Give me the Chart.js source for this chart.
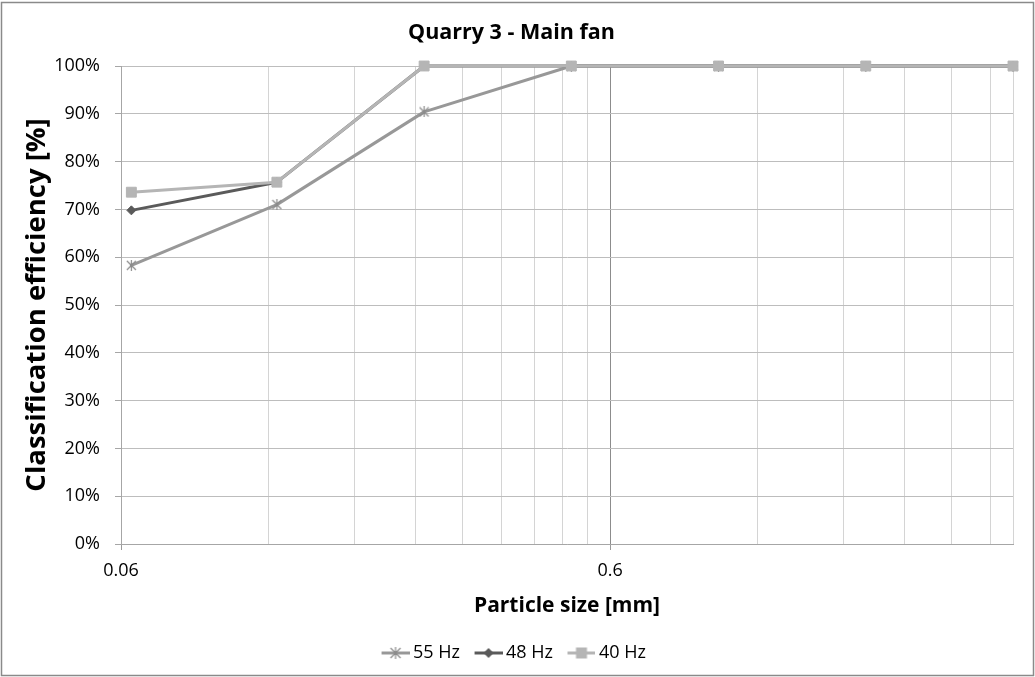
<!DOCTYPE html>
<html>
<head>
<meta charset="utf-8">
<script src="https://cdn.jsdelivr.net/npm/chart.js@4.4.1/dist/chart.umd.min.js"></script>
<style>
  html, body { margin: 0; padding: 0; background: #fff; }
  #wrap { width: 1035px; height: 677px; position: relative; }
</style>
</head>
<body>
<div id="wrap"><canvas id="c" width="1035" height="677"></canvas></div>
<script>
// ---- data ----
const particleSizes = [0.063, 0.125, 0.25, 0.5, 1, 2, 4];
const eff55 = [58.3, 71.0, 90.4, 100, 100, 100, 100];
const eff48 = [69.8, 75.7, 100, 100, 100, 100, 100];
const eff40 = [73.6, 75.7, 100, 100, 100, 100, 100];
const seriesLabels = ['55 Hz', '48 Hz', '40 Hz'];
const xGridValues = [0.06, 0.12, 0.18, 0.24, 0.3, 0.36, 0.42, 0.48, 0.54, 0.6, 1.2, 1.8, 2.4, 3.0, 3.6, 4];
const xMajorValues = [0.06, 0.6];
const xMajorLabels = ['0.06', '0.6'];
const yTickValues = [0, 10, 20, 30, 40, 50, 60, 70, 80, 90, 100];

const FONT = "'Open Sans', 'DejaVu Sans', sans-serif";
const C55 = '#989898', C48 = '#5a5a5a', C40 = '#b5b5b5';

function starImage(color) {
  const s = 11, cv = document.createElement('canvas');
  cv.width = s; cv.height = s;
  const g = cv.getContext('2d');
  g.strokeStyle = color; g.lineWidth = 1.2;
  g.beginPath();
  g.moveTo(1, 1); g.lineTo(s - 1, s - 1);
  g.moveTo(s - 1, 1); g.lineTo(1, s - 1);
  g.moveTo(s / 2, 0); g.lineTo(s / 2, s);
  g.stroke();
  return cv;
}
// legend icon: transparent margin on the left, then a 28px line with marker
function legendIcon(lineColor, kind, markColor) {
  const m = 10, lw = 28, w = m + lw, h = 14, cv = document.createElement('canvas');
  cv.width = w; cv.height = h;
  const g = cv.getContext('2d');
  g.strokeStyle = lineColor; g.lineWidth = 3;
  g.beginPath(); g.moveTo(m, h / 2); g.lineTo(w, h / 2); g.stroke();
  const cx = m + lw / 2, cy = h / 2;
  if (kind === 'star') {
    g.strokeStyle = markColor; g.lineWidth = 1.2;
    g.beginPath();
    g.moveTo(cx - 5, cy - 5); g.lineTo(cx + 5, cy + 5);
    g.moveTo(cx + 5, cy - 5); g.lineTo(cx - 5, cy + 5);
    g.moveTo(cx, cy - 6); g.lineTo(cx, cy + 6);
    g.stroke();
  } else if (kind === 'diamond') {
    g.fillStyle = markColor;
    g.beginPath(); g.moveTo(cx, cy - 5); g.lineTo(cx + 5, cy); g.lineTo(cx, cy + 5); g.lineTo(cx - 5, cy); g.closePath(); g.fill();
  } else {
    g.fillStyle = markColor;
    g.fillRect(cx - 5.5, cy - 5.5, 11, 11);
  }
  return cv;
}

const star = starImage('#8a8a8a');
const icons = [legendIcon(C55, 'star', '#8a8a8a'), legendIcon(C48, 'diamond', C48), legendIcon(C40, 'square', C40)];

const borderPlugin = {
  id: 'outerBorder',
  beforeDraw(chart) {
    const ctx = chart.ctx;
    ctx.save();
    ctx.fillStyle = '#fff';
    ctx.fillRect(0, 0, chart.width, chart.height);
    ctx.strokeStyle = '#8a8a8a';
    ctx.lineWidth = 1.5;
    ctx.strokeRect(1.5, 2.5, chart.width - 3, chart.height - 4);
    ctx.restore();
  }
};

const pts = (ys) => particleSizes.map((x, i) => ({ x: x, y: ys[i] }));

new Chart(document.getElementById('c'), {
  type: 'line',
  data: {
    datasets: [
      { label: seriesLabels[0], data: pts(eff55), borderColor: C55, backgroundColor: C55, borderWidth: 3,
        pointStyle: star, pointRadius: 6, order: 3, clip: false },
      { label: seriesLabels[1], data: pts(eff48), borderColor: C48, backgroundColor: C48, borderWidth: 3,
        pointStyle: 'rectRot', pointRadius: 4.5, pointBorderWidth: 1, pointBorderColor: C48, order: 2, clip: false },
      { label: seriesLabels[2], data: pts(eff40), borderColor: C40, backgroundColor: C40, borderWidth: 3,
        pointStyle: 'rect', pointRadius: 7, pointBorderWidth: 1, pointBorderColor: C40, order: 1, clip: false }
    ]
  },
  options: {
    responsive: false,
    animation: false,
    devicePixelRatio: 1,
    layout: { padding: { left: 10, right: 22, top: 0, bottom: 5 } },
    elements: { line: { tension: 0, borderJoinStyle: 'round', borderCapStyle: 'round' } },
    plugins: {
      tooltip: { enabled: false },
      title: {
        display: true, text: 'Quarry 3 - Main fan', color: '#000',
        font: { family: FONT, size: 21.5, weight: 'bold' },
        padding: { top: 20, bottom: 20.2 }
      },
      legend: {
        position: 'bottom',
        labels: {
          usePointStyle: true, pointStyleWidth: 27, padding: 10, color: '#000',
          font: { family: FONT, size: 18 },
          generateLabels(chart) {
            return chart.data.datasets.map((ds, i) => ({
              text: ds.label, pointStyle: icons[i], datasetIndex: i,
              fillStyle: ds.borderColor, strokeStyle: ds.borderColor, lineWidth: 0, hidden: false, fontColor: '#000'
            }));
          }
        }
      }
    },
    scales: {
      x: {
        type: 'logarithmic', min: 0.06, max: 4,
        afterBuildTicks(scale) { scale.ticks = xGridValues.map(v => ({ value: v, major: xMajorValues.includes(v) })); },
        afterFit(scale) { scale.height = 90; },
        ticks: {
          autoSkip: false, maxRotation: 0, padding: 10.5, color: '#000',
          font: { family: FONT, size: 18 },
          callback(value) { const k = xMajorValues.indexOf(value); return k >= 0 ? xMajorLabels[k] : ''; }
        },
        grid: {
          drawTicks: true, tickLength: 6,
          color(ctx) { const v = ctx.tick && ctx.tick.value; return v === 0.6 ? '#8c8c8c' : '#d4d4d4'; },
          tickColor(ctx) { const v = ctx.tick && ctx.tick.value; return xMajorValues.includes(v) ? '#9a9a9a' : 'rgba(0,0,0,0)'; }
        },
        border: { display: true, color: '#a6a6a6', width: 1 },
        title: {
          display: true, text: 'Particle size [mm]', color: '#000',
          font: { family: FONT, size: 21, weight: 'bold' },
          padding: { top: 0, bottom: 15 }
        }
      },
      y: {
        min: 0, max: 100,
        afterBuildTicks(scale) { scale.ticks = yTickValues.map(v => ({ value: v })); },
        afterFit(scale) { scale.width = 111; },
        ticks: {
          padding: 15, color: '#000',
          font: { family: FONT, size: 18 },
          callback(value) { return value + '%'; }
        },
        grid: { color: '#bdbdbd', tickLength: 6, tickColor: '#a6a6a6' },
        border: { display: true, color: '#a6a6a6', width: 1 },
        title: {
          display: true, text: 'Classification efficiency [%]', color: '#000',
          font: { family: FONT, size: 27.5, weight: 'bold' },
          padding: { top: 11, bottom: 0 }
        }
      }
    }
  },
  plugins: [borderPlugin]
});
</script>
</body>
</html>
